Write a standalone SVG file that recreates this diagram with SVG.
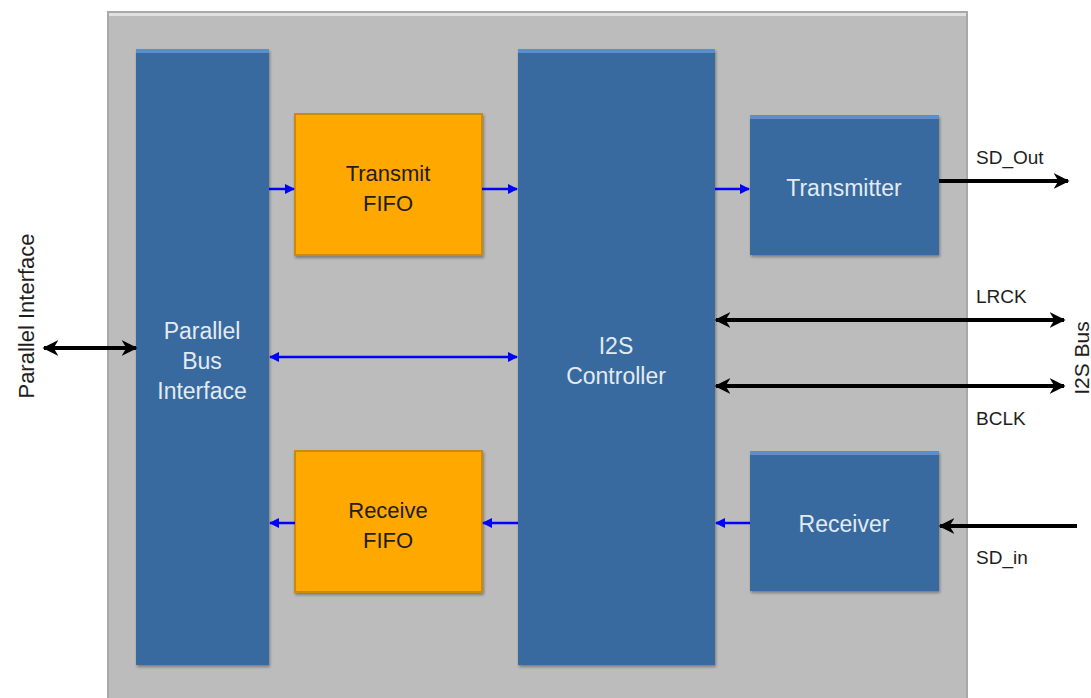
<svg xmlns="http://www.w3.org/2000/svg" width="1091" height="698" viewBox="0 0 1091 698">
<style>
.blue{fill:#376a9f;}
.bevel{fill:#5b8fc9;}
.orange{fill:#ffa800;stroke:#c98a0e;stroke-width:2;}
.wt{font-family:"Liberation Sans",Arial,sans-serif;font-size:23px;fill:#e3eaf3;text-anchor:middle;}
.dt{font-family:"Liberation Sans",Arial,sans-serif;font-size:22px;fill:#1e1e1e;text-anchor:middle;}
.lbl{font-family:"Liberation Sans",Arial,sans-serif;font-size:19px;fill:#1e1e1e;}
.bl{stroke:#0000ff;stroke-width:2.5;fill:none;}
.bk{stroke:#000;stroke-width:4;fill:none;}
</style>
<defs>
<marker id="ab" viewBox="0 0 10 10" refX="9" refY="5" markerWidth="4" markerHeight="4" orient="auto-start-reverse" markerUnits="strokeWidth"><path d="M0,0 L10,5 L0,10 z" fill="#0000ff"/></marker>
<marker id="ak" viewBox="0 0 10 10" refX="9" refY="5" markerWidth="4" markerHeight="4" orient="auto-start-reverse" markerUnits="strokeWidth"><path d="M0,0 L10,5 L0,10 L3,5 z" fill="#000"/></marker>
<filter id="sh" x="-10%" y="-10%" width="120%" height="120%"><feDropShadow dx="1" dy="2" stdDeviation="1.5" flood-color="#000" flood-opacity="0.35"/></filter>
</defs>
<rect width="1091" height="698" fill="#fff"/>
<g id="frame">
<rect x="108" y="12" width="859" height="700" fill="#bcbcbc" stroke="#a8a8a8" stroke-width="2"/>
<rect x="109" y="13" width="857" height="3" fill="#e0e0e0"/>
</g>
<g id="parallel-bus-interface">
<rect class="blue" x="136" y="49" width="133" height="616" filter="url(#sh)"/>
<rect class="bevel" x="136" y="49" width="133" height="4"/>
<text class="wt" x="202" y="339">Parallel</text>
<text class="wt" x="202" y="369">Bus</text>
<text class="wt" x="202" y="399">Interface</text>
</g>
<g id="transmit-fifo">
<rect class="orange" x="295" y="114" width="187" height="141" filter="url(#sh)"/>
<text class="dt" x="388" y="181">Transmit</text>
<text class="dt" x="388" y="211">FIFO</text>
</g>
<g id="receive-fifo">
<rect class="orange" x="295" y="451" width="187" height="141" filter="url(#sh)"/>
<text class="dt" x="388" y="518">Receive</text>
<text class="dt" x="388" y="548">FIFO</text>
</g>
<g id="i2s-controller">
<rect class="blue" x="518" y="49" width="197" height="616" filter="url(#sh)"/>
<rect class="bevel" x="518" y="49" width="197" height="4"/>
<text class="wt" x="616" y="354">I2S</text>
<text class="wt" x="616" y="384">Controller</text>
</g>
<g id="transmitter">
<rect class="blue" x="750" y="115" width="189" height="140" filter="url(#sh)"/>
<rect class="bevel" x="750" y="115" width="189" height="4"/>
<text class="wt" x="844" y="196">Transmitter</text>
</g>
<g id="receiver">
<rect class="blue" x="750" y="451" width="189" height="140" filter="url(#sh)"/>
<rect class="bevel" x="750" y="451" width="189" height="4"/>
<text class="wt" x="844" y="532">Receiver</text>
</g>
<g id="connectors">
<line class="bl" x1="269" y1="189" x2="294" y2="189" marker-end="url(#ab)"/>
<line class="bl" x1="482" y1="189" x2="517" y2="189" marker-end="url(#ab)"/>
<line class="bl" x1="715" y1="189" x2="749" y2="189" marker-end="url(#ab)"/>
<line class="bl" x1="270" y1="357" x2="517" y2="357" marker-start="url(#ab)" marker-end="url(#ab)"/>
<line class="bl" x1="518" y1="523" x2="483" y2="523" marker-end="url(#ab)"/>
<line class="bl" x1="295" y1="523" x2="270" y2="523" marker-end="url(#ab)"/>
<line class="bl" x1="750" y1="523" x2="716" y2="523" marker-end="url(#ab)"/>
<line class="bk" x1="939" y1="181" x2="1068" y2="181" marker-end="url(#ak)"/>
<line class="bk" x1="716" y1="320" x2="1064" y2="320" marker-start="url(#ak)" marker-end="url(#ak)"/>
<line class="bk" x1="716" y1="386" x2="1064" y2="386" marker-start="url(#ak)" marker-end="url(#ak)"/>
<line class="bk" x1="1077" y1="526" x2="940" y2="526" marker-end="url(#ak)"/>
<line class="bk" x1="44" y1="348" x2="136" y2="348" marker-start="url(#ak)" marker-end="url(#ak)"/>
</g>
<g id="labels">
<text class="lbl" x="976" y="164">SD_Out</text>
<text class="lbl" x="976" y="303">LRCK</text>
<text class="lbl" x="976" y="425">BCLK</text>
<text class="lbl" x="976" y="564">SD_in</text>
<text class="lbl" transform="translate(1089,358) rotate(-90)" text-anchor="middle" style="font-size:21px">I2S Bus</text>
<text class="lbl" transform="translate(34,316) rotate(-90)" text-anchor="middle" style="font-size:22px">Parallel Interface</text>
</g>
</svg>
